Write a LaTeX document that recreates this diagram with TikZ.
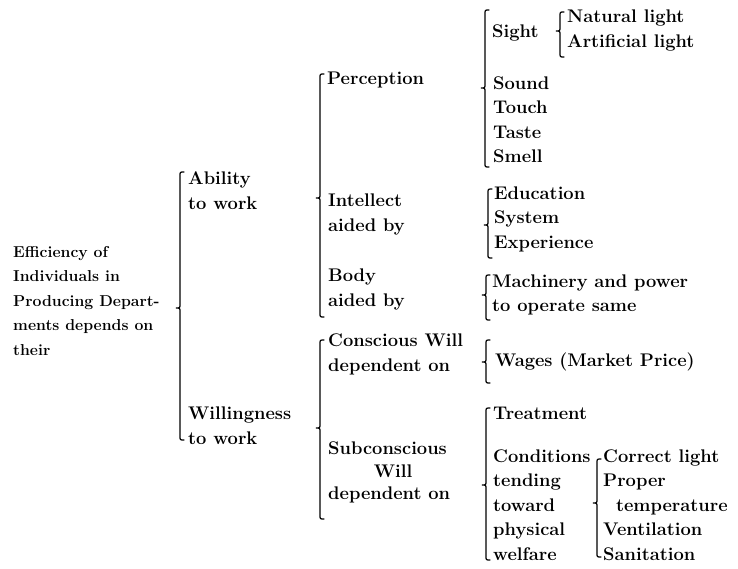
\documentclass[tikz,border=0pt]{standalone}
\usetikzlibrary{positioning}

\begin{document}
\begin{tikzpicture}[x=1pt,y=-1pt,
   every node/.style={inner sep=0pt,anchor=west,align=left,
     font=\fontsize{18.3}{24.5}\selectfont\bfseries},
   rootlbl/.style={font=\fontsize{15.8}{24.5}\selectfont\bfseries},
   brc/.style={line width=1.2pt,line cap=round}]
\useasboundingbox (0,0) rectangle (738,568);
% braces: x / top / tip / bottom
\foreach \x/\t/\m/\b in {180/172/308/440, 320/74/198/317, 320/340/428/519,
     485/10/88/167, 560/12/31/57, 488/189/225/258, 486/275/295/320,
     486/340/362/383, 486/408/485/560, 597/459/503/557}
  \draw[brc] (\x+4,\t) .. controls (\x,\t) .. (\x,\t+4) -- (\x,\m-4)
     .. controls (\x,\m) .. (\x-4,\m) .. controls (\x,\m) .. (\x,\m+4)
     -- (\x,\b-4) .. controls (\x,\b) .. (\x+4,\b);
\node[rootlbl] (eff) at (13,301) {Efficiency of\\Individuals in\\Producing Depart-\\ments depends on\\their};
\node (ability) at (188,190.5) {Ability\\to work};
\node (willing) at (188,425.5) {Willingness\\to work};
\node (percep) at (327,80) {Perception};
\node (intel) at (328,214.5) {Intellect\\aided by};
\node (body) at (328,289.5) {Body\\aided by};
\node (consc) at (328,354.5) {Conscious Will\\dependent on};
\node[font=\fontsize{18.3}{22.5}\selectfont\bfseries] (subc) at (328,472.5)
   {Subconscious\\\hspace*{2.5em}Will\\dependent on};
\node (sight) at (492,33) {Sight};
\node (lights) at (567,30.5) {Natural light\\Artificial light};
\node (senses) at (493,119.5) {Sound\\Touch\\Taste\\Smell};
\node (edu) at (494,219) {Education\\System\\Experience};
\node (mach) at (492,295) {Machinery and power\\to operate same};
\node (wages) at (495,362) {Wages (Market Price)};
\node (treat) at (493,413) {Treatment};
\node (cond) at (493,505) {Conditions\\tending\\toward\\physical\\welfare};
\node (phys) at (603,505) {Correct light\\Proper\\\hspace*{0.7em}temperature\\Ventilation\\Sanitation};
\end{tikzpicture}
\end{document}
